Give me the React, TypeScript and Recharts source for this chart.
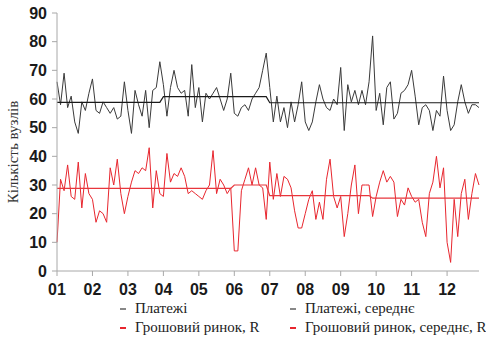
import { Line, LineChart, XAxis, YAxis } from 'recharts'

// one point ~ every two working days, 10 points per month
const pointsPerMonth = 10
const months = ['01', '02', '03', '04', '05', '06', '07', '08', '09', '10', '11', '12']
const yTicks = [0, 10, 20, 30, 40, 50, 60, 70, 80, 90]

const payments = [
  66, 58, 69, 57, 61, 52, 48, 59, 56, 62,
  67, 56, 55, 59, 57, 55, 57, 53, 54, 66,
  56, 48, 63, 58, 54, 63, 50, 63, 64, 73,
  65, 54, 64, 70, 64, 62, 63, 54, 72, 57,
  64, 52, 62, 60, 62, 64, 60, 56, 60, 69,
  55, 54, 57, 58, 56, 60, 62, 64, 70, 76,
  64, 52, 61, 52, 57, 50, 59, 52, 58, 66,
  52, 49, 52, 59, 65, 60, 57, 56, 60, 58,
  71, 49, 65, 59, 63, 58, 63, 58, 66, 82,
  56, 62, 51, 64, 66, 53, 55, 62, 63, 65,
  70, 61, 51, 57, 58, 56, 49, 56, 54, 68,
  56, 49, 51, 59, 65, 59, 55, 58, 58, 57,
]

const moneyMarket = [
  10, 32, 28, 37, 26, 25, 38, 22, 34, 27,
  25, 17, 21, 20, 17, 36, 30, 39, 27, 20,
  26, 31, 35, 34, 36, 35, 43, 22, 35, 27,
  26, 41, 31, 34, 33, 36, 33, 27, 28, 27,
  26, 25, 28, 30, 42, 27, 32, 30, 27, 29,
  7, 7, 28, 32, 36, 30, 36, 30, 29, 18,
  38, 25, 34, 26, 33, 32, 29, 21, 15, 15,
  20, 25, 28, 18, 24, 18, 32, 39, 26, 22,
  26, 12, 20, 30, 37, 20, 30, 30, 30, 19,
  26, 31, 35, 31, 33, 31, 19, 25, 23, 29,
  26, 24, 25, 17, 12, 27, 31, 40, 29, 36,
  10, 3, 25, 12, 27, 32, 18, 27, 34, 30,
]

// period averages: last point index of each period and its mean
const paymentsAvgEnds = [29, 59, 119]
const paymentsAvgValues = [58.8, 60.8, 58.7]
const marketAvgEnds = [49, 59, 88, 119]
const marketAvgValues = [28.8, 30, 26.3, 25.4]

const legendRows = [
  ['Платежі', 'Платежі, середнє'],
  ['Грошовий ринок, R', 'Грошовий ринок, середнє, R'],
]

function periodValue(i: number, ends: number[], values: number[]) {
  const k = ends.findIndex((e) => i <= e)
  return values[k === -1 ? values.length - 1 : k]
}

const data = payments.map((v, i) => ({
  t: i / pointsPerMonth,
  payments: v,
  paymentsAvg: periodValue(i, paymentsAvgEnds, paymentsAvgValues),
  market: moneyMarket[i],
  marketAvg: periodValue(i, marketAvgEnds, marketAvgValues),
}))

const xMax = 11.9
const axisColor = '#a8a8a8'
const tickStyle = { fontSize: 16, fontWeight: 700, fill: '#1a1a1a', fontFamily: '"Liberation Sans", Arial, sans-serif' }
const serif = '"Liberation Serif", "Times New Roman", serif'

export default function App() {
  return (
    <div style={{ position: 'absolute', left: 0, top: 0, width: 486, height: 337, background: '#fff' }}>
      <LineChart width={486} height={337} data={data} margin={{ top: 13, right: 7, bottom: 0, left: 0 }}>
        <XAxis
          dataKey="t"
          type="number"
          domain={[0, xMax]}
          ticks={months.map((_, i) => i)}
          tickFormatter={(v: number) => months[Math.round(v)]}
          interval={0}
          height={66}
          tickSize={5}
          tickMargin={8}
          stroke={axisColor}
          tick={tickStyle}
        />
        <XAxis xAxisId="frame" orientation="top" type="number" domain={[0, xMax]} height={0} tick={false} tickLine={false} stroke={axisColor} />
        <YAxis
          domain={[0, 90]}
          ticks={yTicks}
          interval={0}
          width={57}
          tickSize={5}
          tickMargin={5}
          stroke={axisColor}
          tick={tickStyle}
        />
        <YAxis yAxisId="frame" orientation="right" domain={[0, 90]} width={0} tick={false} tickLine={false} stroke={axisColor} />
        <Line dataKey="payments" type="linear" stroke="#3a3a3a" strokeWidth={1} dot={false} isAnimationActive={false} />
        <Line dataKey="paymentsAvg" type="linear" stroke="#1a1a1a" strokeWidth={1.2} dot={false} isAnimationActive={false} />
        <Line dataKey="market" type="linear" stroke="#e8262e" strokeWidth={1} dot={false} isAnimationActive={false} />
        <Line dataKey="marketAvg" type="linear" stroke="#e8363c" strokeWidth={1.2} dot={false} isAnimationActive={false} />
      </LineChart>
      <div
        style={{
          position: 'absolute', left: 13, top: 152, transform: 'translate(-50%, -50%) rotate(-90deg)',
          whiteSpace: 'nowrap', fontFamily: serif, fontSize: 15, color: '#333',
        }}
      >
        Кількість вузлів
      </div>
      {legendRows.map((row, r) =>
        row.map((label, c) => (
          <div
            key={label}
            style={{
              position: 'absolute', left: c === 0 ? 120 : 290, top: r === 0 ? 299 : 318,
              display: 'flex', alignItems: 'center', whiteSpace: 'nowrap',
              fontFamily: serif, fontSize: 15, lineHeight: '18px', color: '#222',
            }}
          >
            <span style={{ display: 'inline-block', width: 6, height: 1.5, background: r === 0 ? '#888' : '#e8262e', marginRight: 9, marginTop: 2 }} />
            {label}
          </div>
        )),
      )}
    </div>
  )
}
